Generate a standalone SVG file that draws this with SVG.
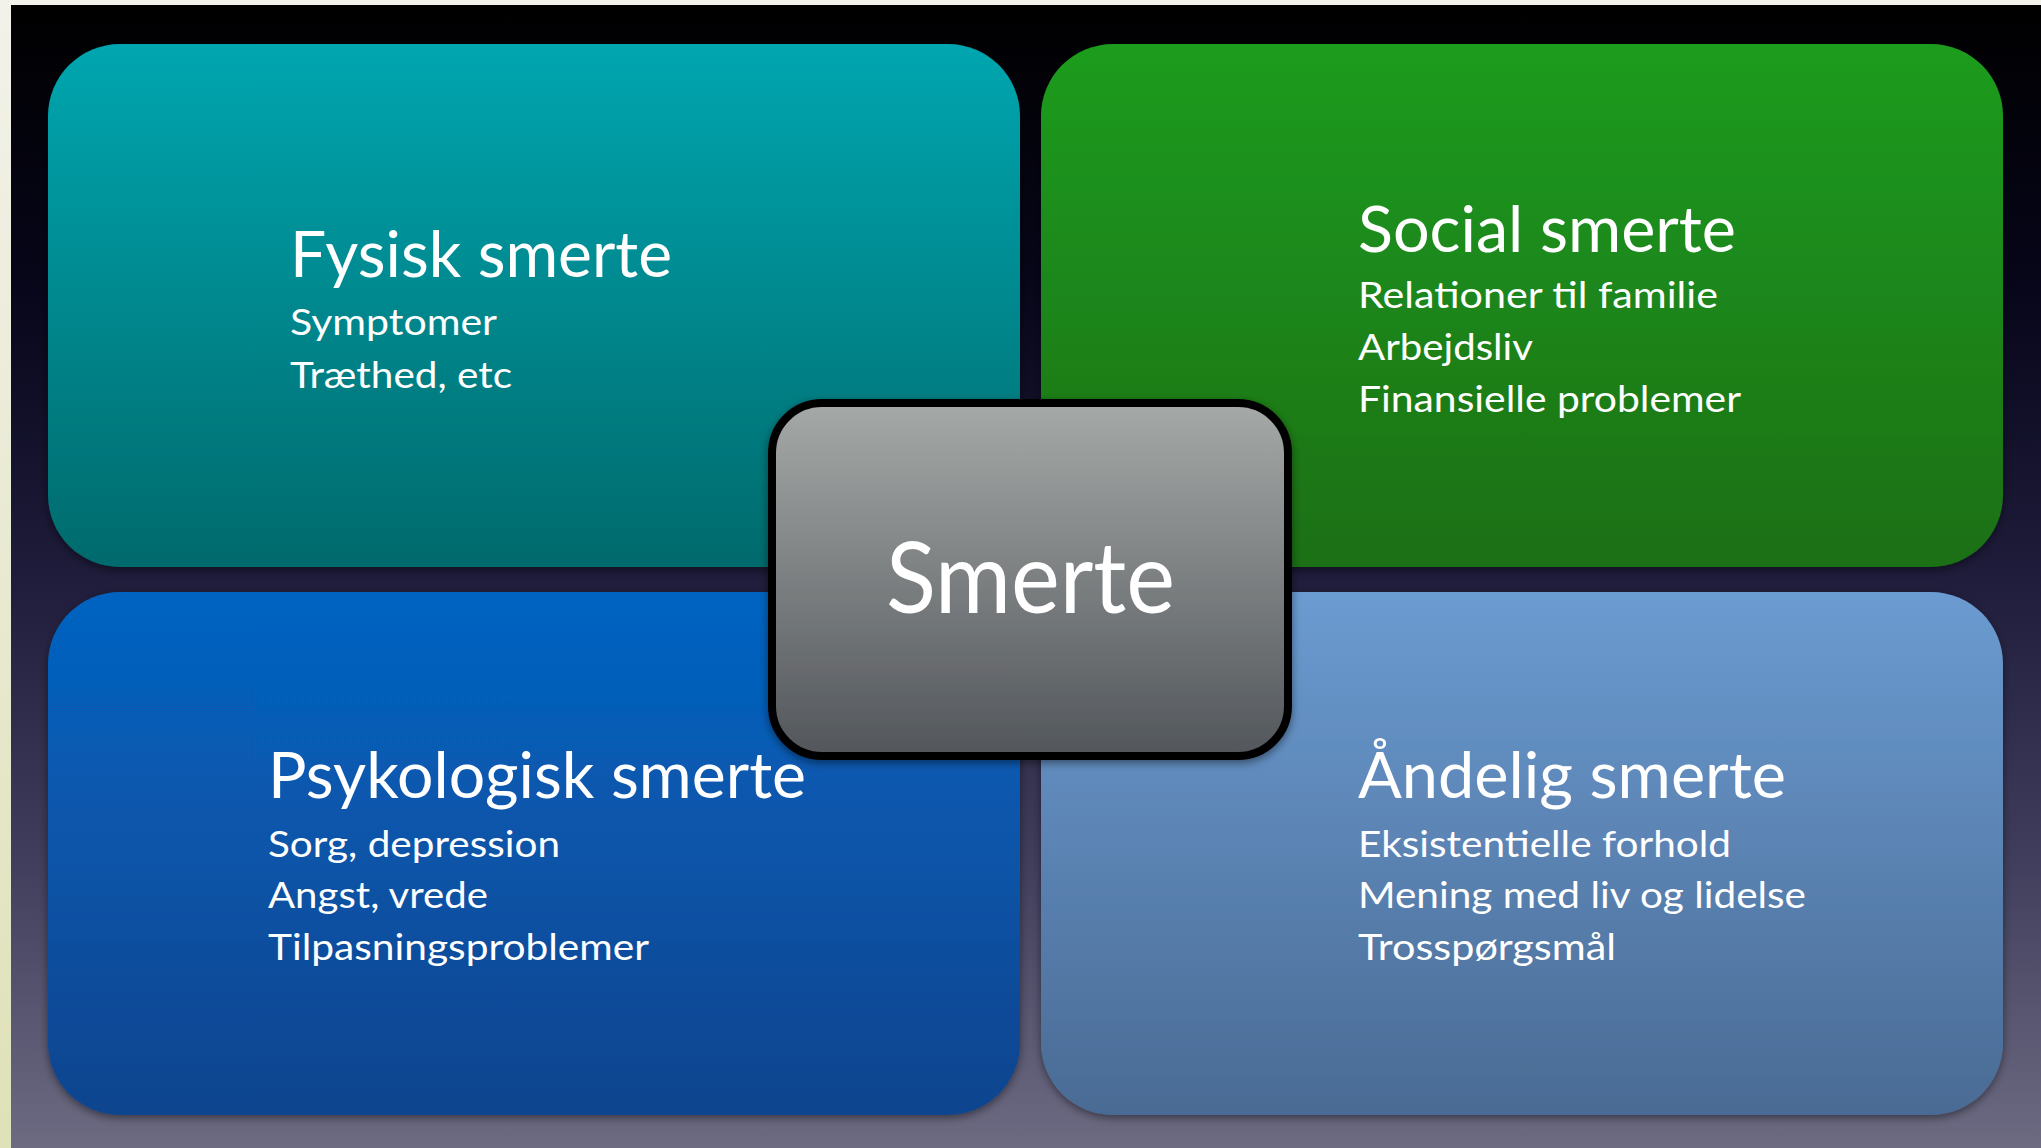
<svg xmlns="http://www.w3.org/2000/svg" width="2041" height="1148" viewBox="0 0 2041 1148">
<defs>
<linearGradient id="bg" x1="0" y1="0" x2="0" y2="1">
<stop offset="0" stop-color="#000000"/>
<stop offset="0.25" stop-color="#07061a"/>
<stop offset="0.5" stop-color="#1e1c3a"/>
<stop offset="0.75" stop-color="#403e5c"/>
<stop offset="1" stop-color="#6d6b82"/>
</linearGradient>
<linearGradient id="strip" x1="0" y1="0" x2="0" y2="1">
<stop offset="0" stop-color="#f2f2ea"/>
<stop offset="1" stop-color="#dfe1b8"/>
</linearGradient>
<linearGradient id="gTL" x1="0" y1="0" x2="0" y2="1">
<stop offset="0" stop-color="#00a6b0"/>
<stop offset="1" stop-color="#026a6c"/>
</linearGradient>
<linearGradient id="gTR" x1="0" y1="0" x2="0" y2="1">
<stop offset="0" stop-color="#1e9c1e"/>
<stop offset="1" stop-color="#1a6f16"/>
</linearGradient>
<linearGradient id="gBL" x1="0" y1="0" x2="0" y2="1">
<stop offset="0" stop-color="#0564c2"/>
<stop offset="1" stop-color="#0b448e"/>
</linearGradient>
<linearGradient id="gBR" x1="0" y1="0" x2="0" y2="1">
<stop offset="0" stop-color="#6b9bd1"/>
<stop offset="1" stop-color="#4a6b94"/>
</linearGradient>
<linearGradient id="gC" x1="0" y1="0" x2="0" y2="1">
<stop offset="0" stop-color="#a5a9a7"/>
<stop offset="1" stop-color="#52565b"/>
</linearGradient>
<filter id="sh" x="-5%" y="-5%" width="110%" height="115%">
<feDropShadow dx="0" dy="3" stdDeviation="4" flood-color="#000" flood-opacity="0.45"/>
</filter>
</defs>
<style>
.box{filter:url(#sh)}
.t{font-family:Lato,"Open Sans","Liberation Sans",sans-serif;fill:#ffffff}
.h{font-size:64px}
.s{font-size:36px}
.c{font-size:98px}
</style>
<rect x="0" y="0" width="2041" height="1148" fill="url(#bg)"/>
<rect x="0" y="0" width="2041" height="5" fill="#f3f3ec"/>
<rect x="0" y="0" width="11" height="1148" fill="url(#strip)"/>

<g id="fysisk">
<rect class="box" x="48" y="44" width="972" height="523" rx="72" fill="url(#gTL)"/>
<text class="t h" x="290" y="277" textLength="382" lengthAdjust="spacingAndGlyphs">Fysisk smerte</text>
<text class="t s" x="290" y="335" textLength="207" lengthAdjust="spacingAndGlyphs">Symptomer</text>
<text class="t s" x="290" y="388" textLength="222" lengthAdjust="spacingAndGlyphs">Træthed, etc</text>
</g>

<g id="social">
<rect class="box" x="1041" y="44" width="962" height="523" rx="72" fill="url(#gTR)"/>
<text class="t h" x="1358" y="252" textLength="378" lengthAdjust="spacingAndGlyphs">Social smerte</text>
<text class="t s" x="1358" y="308" textLength="360" lengthAdjust="spacingAndGlyphs">Relationer til familie</text>
<text class="t s" x="1358" y="360" textLength="175" lengthAdjust="spacingAndGlyphs">Arbejdsliv</text>
<text class="t s" x="1358" y="412" textLength="383" lengthAdjust="spacingAndGlyphs">Finansielle problemer</text>
</g>

<g id="psykologisk">
<rect class="box" x="48" y="592" width="972" height="523" rx="72" fill="url(#gBL)"/>
<text class="t h" x="268" y="798" textLength="538" lengthAdjust="spacingAndGlyphs">Psykologisk smerte</text>
<text class="t s" x="268" y="857" textLength="292" lengthAdjust="spacingAndGlyphs">Sorg, depression</text>
<text class="t s" x="268" y="908" textLength="220" lengthAdjust="spacingAndGlyphs">Angst, vrede</text>
<text class="t s" x="268" y="960" textLength="381" lengthAdjust="spacingAndGlyphs">Tilpasningsproblemer</text>
</g>

<g id="andelig">
<rect class="box" x="1041" y="592" width="962" height="523" rx="72" fill="url(#gBR)"/>
<text class="t h" x="1358" y="798" textLength="428" lengthAdjust="spacingAndGlyphs">Åndelig smerte</text>
<text class="t s" x="1358" y="857" textLength="373" lengthAdjust="spacingAndGlyphs">Eksistentielle forhold</text>
<text class="t s" x="1358" y="908" textLength="448" lengthAdjust="spacingAndGlyphs">Mening med liv og lidelse</text>
<text class="t s" x="1358" y="960" textLength="258" lengthAdjust="spacingAndGlyphs">Trosspørgsmål</text>
</g>

<g id="connectors"></g>

<g id="smerte">
<rect class="box" x="772" y="403" width="516" height="353" rx="50" fill="url(#gC)" stroke="#000" stroke-width="8"/>
<text class="t c" x="886" y="613" textLength="289" lengthAdjust="spacingAndGlyphs">Smerte</text>
</g>
</svg>
